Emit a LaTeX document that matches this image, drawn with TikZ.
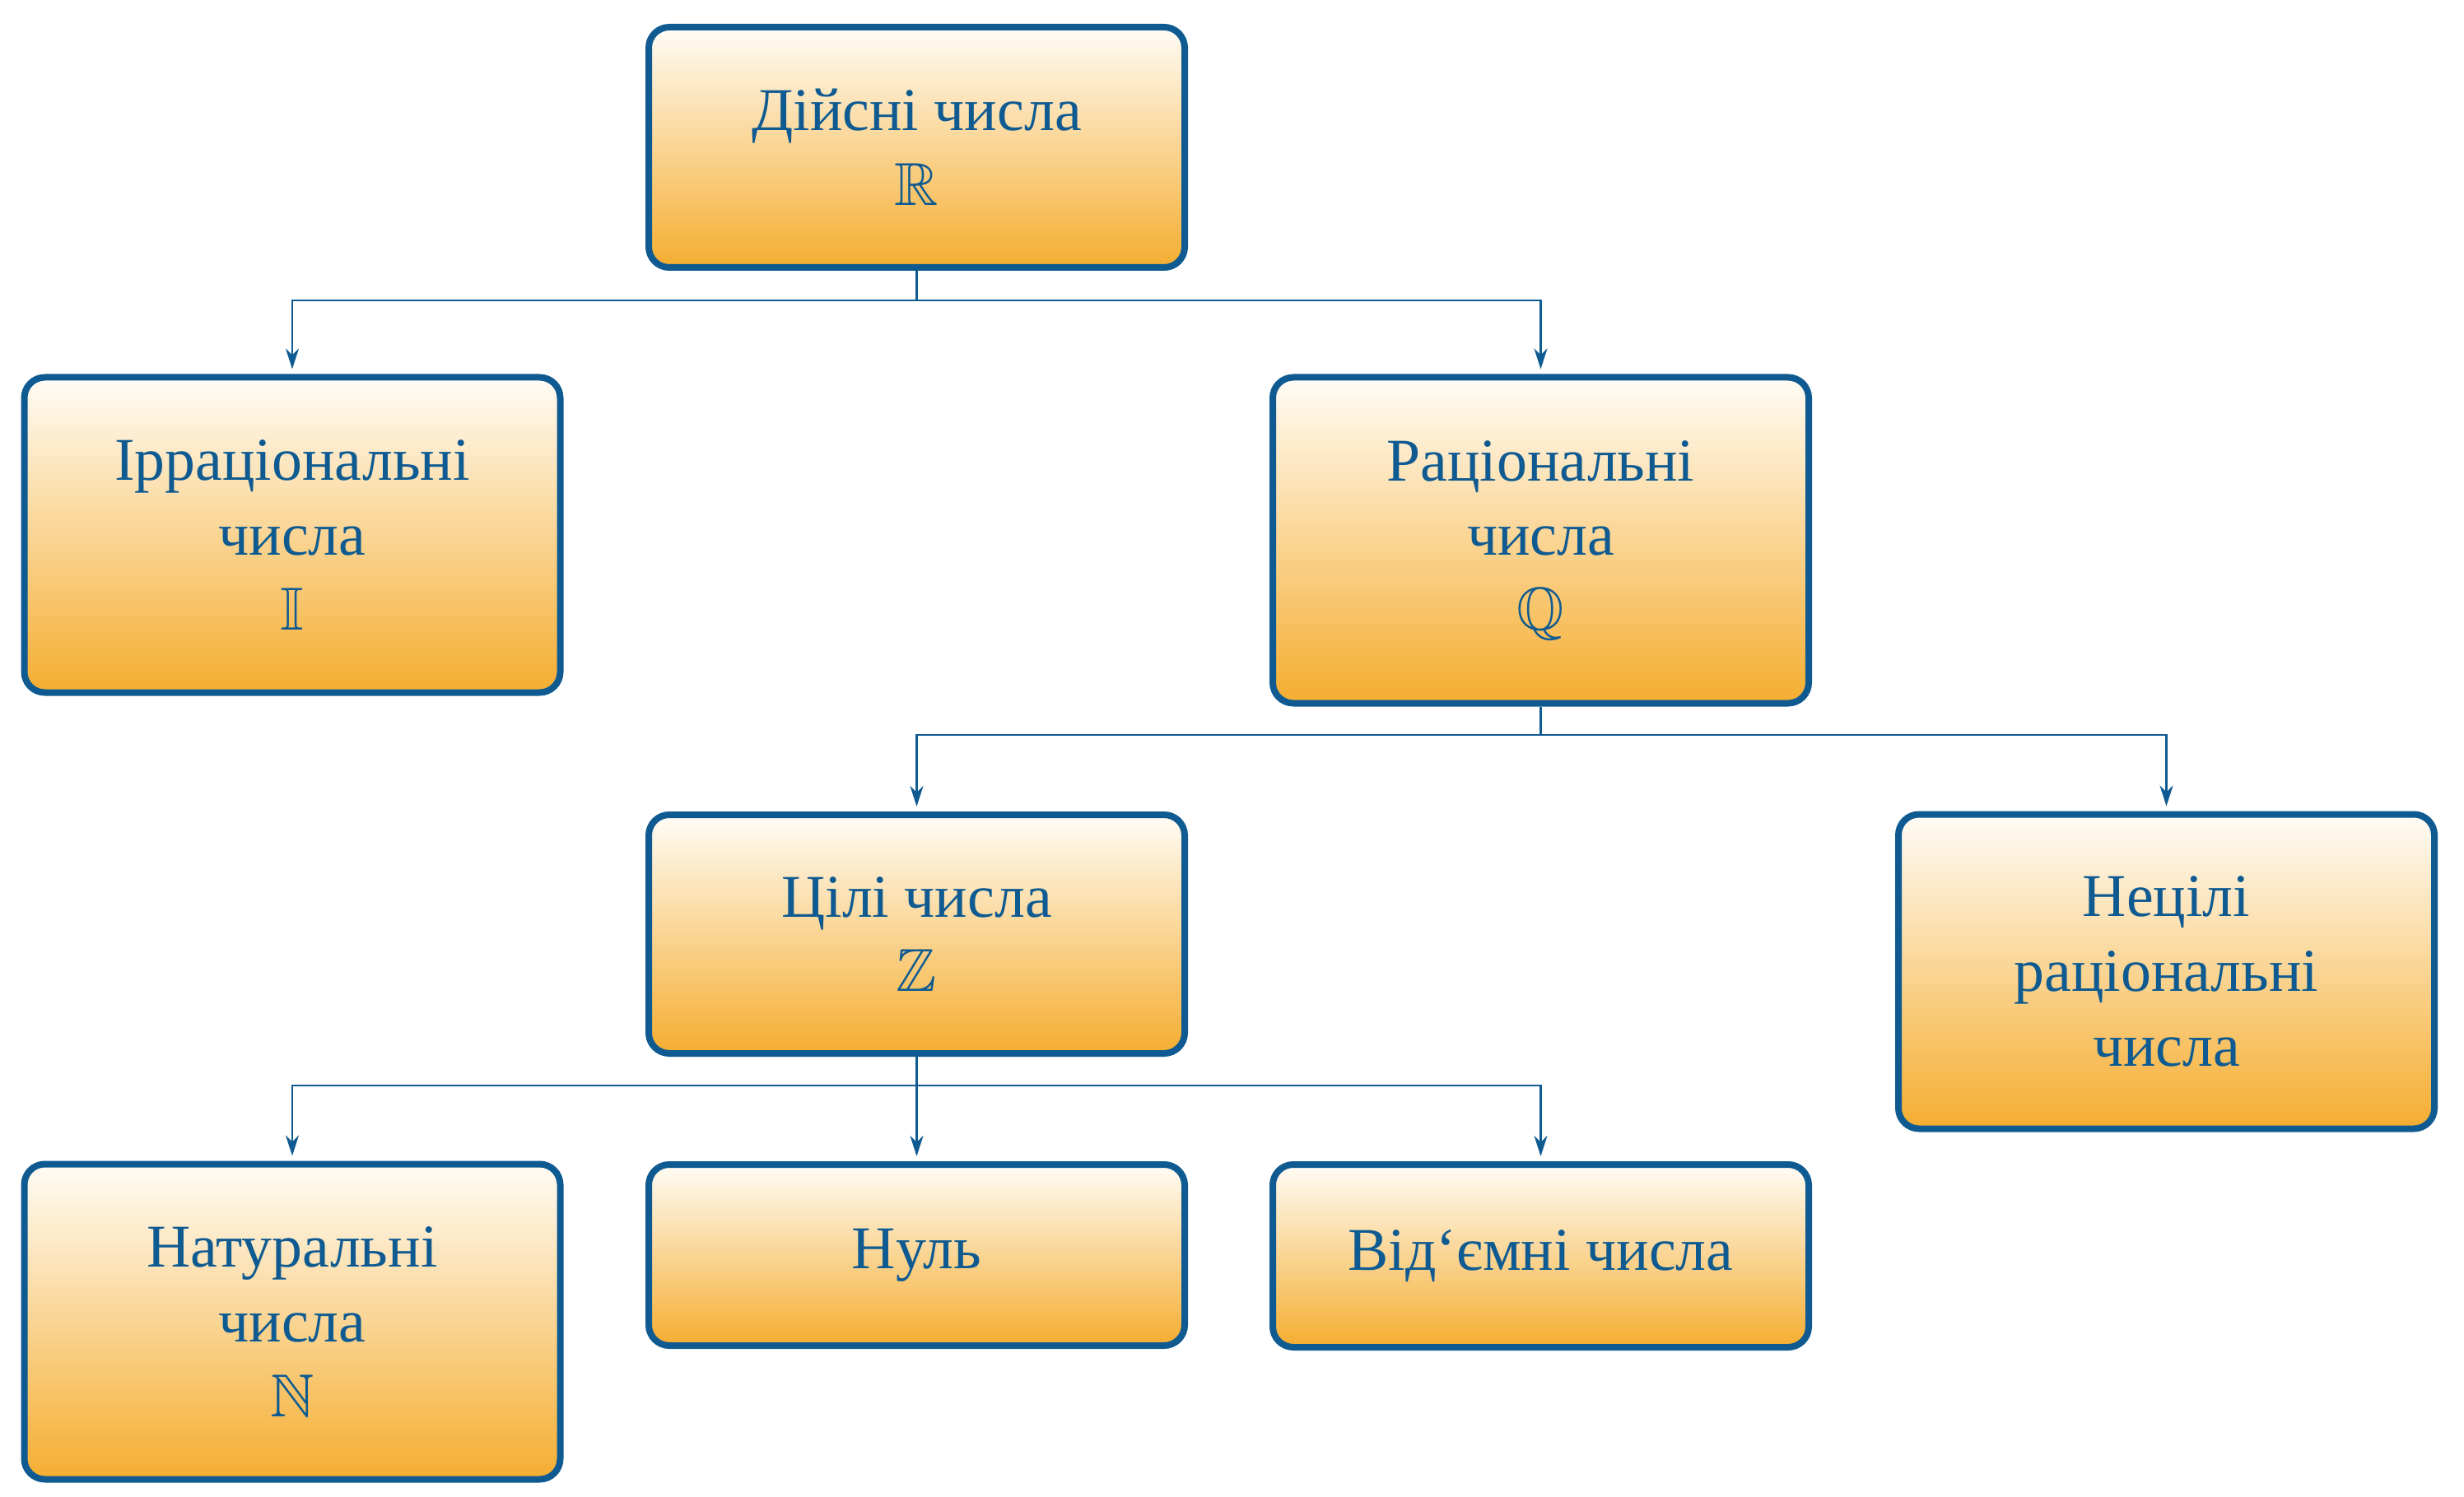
\documentclass[tikz,border=0pt]{standalone}
\usepackage{amssymb}
\usepackage{fontspec}
\setmainfont{Liberation Serif}
\usetikzlibrary{arrows.meta}
\definecolor{myblue}{RGB}{15,91,145}
\definecolor{topc}{RGB}{255,252,246}
\definecolor{botc}{RGB}{245,173,48}
\tikzset{
  box/.style={draw=myblue, line width=0.08cm, rounded corners=0.25cm,
    top color=topc, bottom color=botc, text=myblue, align=center,
    minimum width=6.51cm, inner sep=0pt,
    font=\fontsize{21}{25.8}\selectfont},
  conn/.style={draw=myblue, line width=0.025cm},
  arr/.style={conn, -{Stealth[length=0.25cm, width=0.16cm, inset=0.08cm]}, shorten >=0.06cm}
}
\begin{document}
\begin{tikzpicture}
\useasboundingbox (0,0) rectangle (29.93,-18.19);
\node[box, minimum height=2.92cm] (real) at (11.135,-1.79) {Дійсні числа\\$\mathbb{R}$};
\node[box, minimum height=3.83cm] (irr) at (3.55,-6.50) {Ірраціональні\\числа\\$\mathbb{I}$};
\node[box, minimum height=3.96cm] (rat) at (18.715,-6.565) {Раціональні\\числа\\$\mathbb{Q}$};
\node[box, minimum height=2.90cm] (int) at (11.135,-11.35) {Цілі числа\\$\mathbb{Z}$};
\node[box, minimum height=3.82cm] (nonint) at (26.315,-11.805) {Нецілі\\раціональні\\числа};
\node[box, minimum height=3.83cm] (nat) at (3.55,-16.06) {Натуральні\\числа\\$\mathbb{N}$};
\node[box, minimum height=2.20cm] (zero) at (11.135,-15.25) {Нуль};
\node[box, minimum height=2.22cm] (neg) at (18.715,-15.26) {Від‘ємні числа};

\coordinate (b1) at (11.135,-3.65);
\coordinate (b2) at (18.715,-8.93);
\coordinate (b3) at (11.135,-13.19);

\draw[conn] (real.south) -- (b1);
\draw[arr] (b1) -| (irr.north);
\draw[arr] (b1) -| (rat.north);

\draw[conn] (rat.south) -- (b2);
\draw[arr] (b2) -| (int.north);
\draw[arr] (b2) -| (nonint.north);

\draw[conn] (int.south) -- (b3);
\draw[arr] (b3) -| (nat.north);
\draw[arr] (b3) -- (zero.north);
\draw[arr] (b3) -| (neg.north);
\end{tikzpicture}
\end{document}
